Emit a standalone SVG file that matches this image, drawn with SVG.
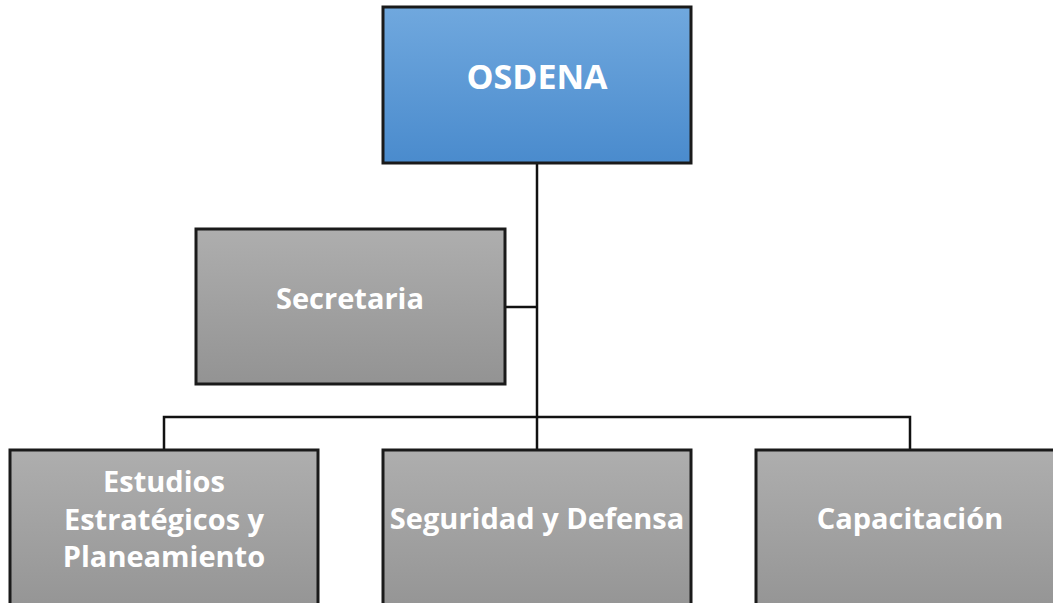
<svg xmlns="http://www.w3.org/2000/svg" width="1053" height="603" viewBox="0 0 1053 603">
<defs>
<linearGradient id="gb" x1="0" y1="0" x2="0" y2="1"><stop offset="0" stop-color="#70A8DE"/><stop offset="1" stop-color="#4A8BCD"/></linearGradient>
<linearGradient id="gg" x1="0" y1="0" x2="0" y2="1"><stop offset="0" stop-color="#AEAEAE"/><stop offset="1" stop-color="#939393"/></linearGradient>
<style>
.box{stroke:#1a1a1a;stroke-width:3}
.blue{fill:url(#gb)}
.gray{fill:url(#gg)}
.t{font-family:"Open Sans","Liberation Sans",sans-serif;font-weight:bold;font-size:29px;fill:#fff;text-anchor:middle}
.big{font-size:34px}
.c{fill:none;stroke:#111;stroke-width:2.5}
</style>
</defs>
<g id="connectors">
<path class="c" d="M537 163 V417"/>
<path class="c" d="M505 307 H537"/>
<path class="c" d="M164 450 V417 H910 V450"/>
<path class="c" d="M537 417 V450"/>
</g>
<g id="osdena"><rect class="box blue" x="383" y="7" width="308" height="156"/><text class="t big" x="537" y="89">OSDENA</text></g>
<g id="secretaria"><rect class="box gray" x="196" y="229" width="309" height="155"/><text class="t" x="350" y="309">Secretaria</text></g>
<g id="estudios"><rect class="box gray" x="10" y="450" width="308" height="170"/><text class="t" x="164" y="492">Estudios</text><text class="t" x="164" y="530">Estratégicos y</text><text class="t" x="164" y="567">Planeamiento</text></g>
<g id="seguridad"><rect class="box gray" x="383" y="450" width="308" height="170"/><text class="t" x="537" y="529">Seguridad y Defensa</text></g>
<g id="capacitacion"><rect class="box gray" x="756" y="450" width="308" height="170"/><text class="t" x="910" y="529">Capacitación</text></g>
</svg>
